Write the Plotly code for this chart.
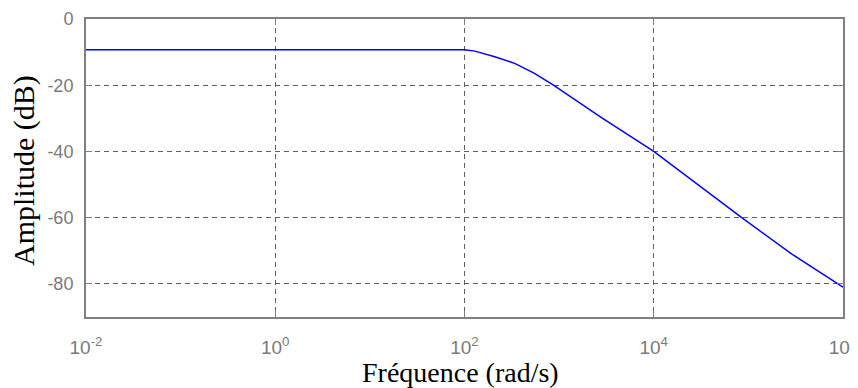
import plotly.graph_objects as go

# Data (frequency in rad/s, amplitude in dB)
freq = [1e-2, 1e2, 10**2.11, 10**2.32, 10**2.53, 10**2.74, 10**2.94, 10**3.44,
        1e4, 10**4.5, 10**4.93, 10**5.46, 1e6]
amp_db = [-9.3, -9.3, -9.7, -11.4, -13.4, -16.4, -20.0, -29.6,
          -40.0, -50.8, -60.0, -71.0, -81.0]

x_ticks = [1e-2, 1e0, 1e2, 1e4, 1e6]
x_tick_labels = ["10<sup>-2</sup>", "10<sup>0</sup>", "10<sup>2</sup>",
                 "10<sup>4</sup>", "10<sup>6</sup>"]
y_ticks = [0, -20, -40, -60, -80]
y_tick_labels = ["0", "-20", "-40", "-60", "-80"]

x_title = "Fréquence (rad/s)"
y_title = "Amplitude (dB)"

grid_color = "#5f5f5f"
frame_color = "#808080"
sans = "Liberation Sans, Arial, sans-serif"
serif = "Liberation Serif, Times New Roman, serif"

fig = go.Figure()
fig.add_trace(go.Scatter(x=freq, y=amp_db, mode="lines",
                         line=dict(color="#0000ff", width=1.5),
                         showlegend=False, hoverinfo="skip"))

axis_common = dict(
    showgrid=True, gridcolor=grid_color, griddash="5px,4px", gridwidth=1,
    showline=True, linecolor=frame_color, linewidth=2, mirror="ticks",
    ticks="inside", ticklen=6, tickcolor=frame_color, tickwidth=1,
    zeroline=False, automargin=False,
)

# The page body has an 8px default margin, so the figure is sized and
# its margins set so the plot area lands where the reference has it.
fig.update_layout(
    width=850, height=380,
    margin=dict(l=78, r=15, t=11, b=71),
    paper_bgcolor="white", plot_bgcolor="white",
    xaxis=dict(
        type="log", range=[-2, 6],
        tickvals=x_ticks, ticktext=x_tick_labels,
        tickfont=dict(family=sans, size=19, color="#7a7a7a"),
        ticklabelstandoff=12,
        **axis_common,
    ),
    yaxis=dict(
        range=[-90, 0],
        tickvals=y_ticks, ticktext=y_tick_labels,
        tickfont=dict(family=sans, size=18, color="#7a7a7a"),
        ticklabelstandoff=7,
        **axis_common,
    ),
    annotations=[
        dict(text=x_title, xref="paper", yref="paper", x=0.5, y=0,
             xanchor="center", yanchor="middle", xshift=-4, yshift=-55,
             showarrow=False,
             font=dict(family=serif, size=28, color="black")),
        dict(text=y_title, xref="paper", yref="paper", x=0, y=0.5,
             xanchor="center", yanchor="middle", xshift=-62, yshift=-3,
             textangle=-90, showarrow=False,
             font=dict(family=serif, size=30, color="black")),
    ],
)

fig.write_html("out.html")
